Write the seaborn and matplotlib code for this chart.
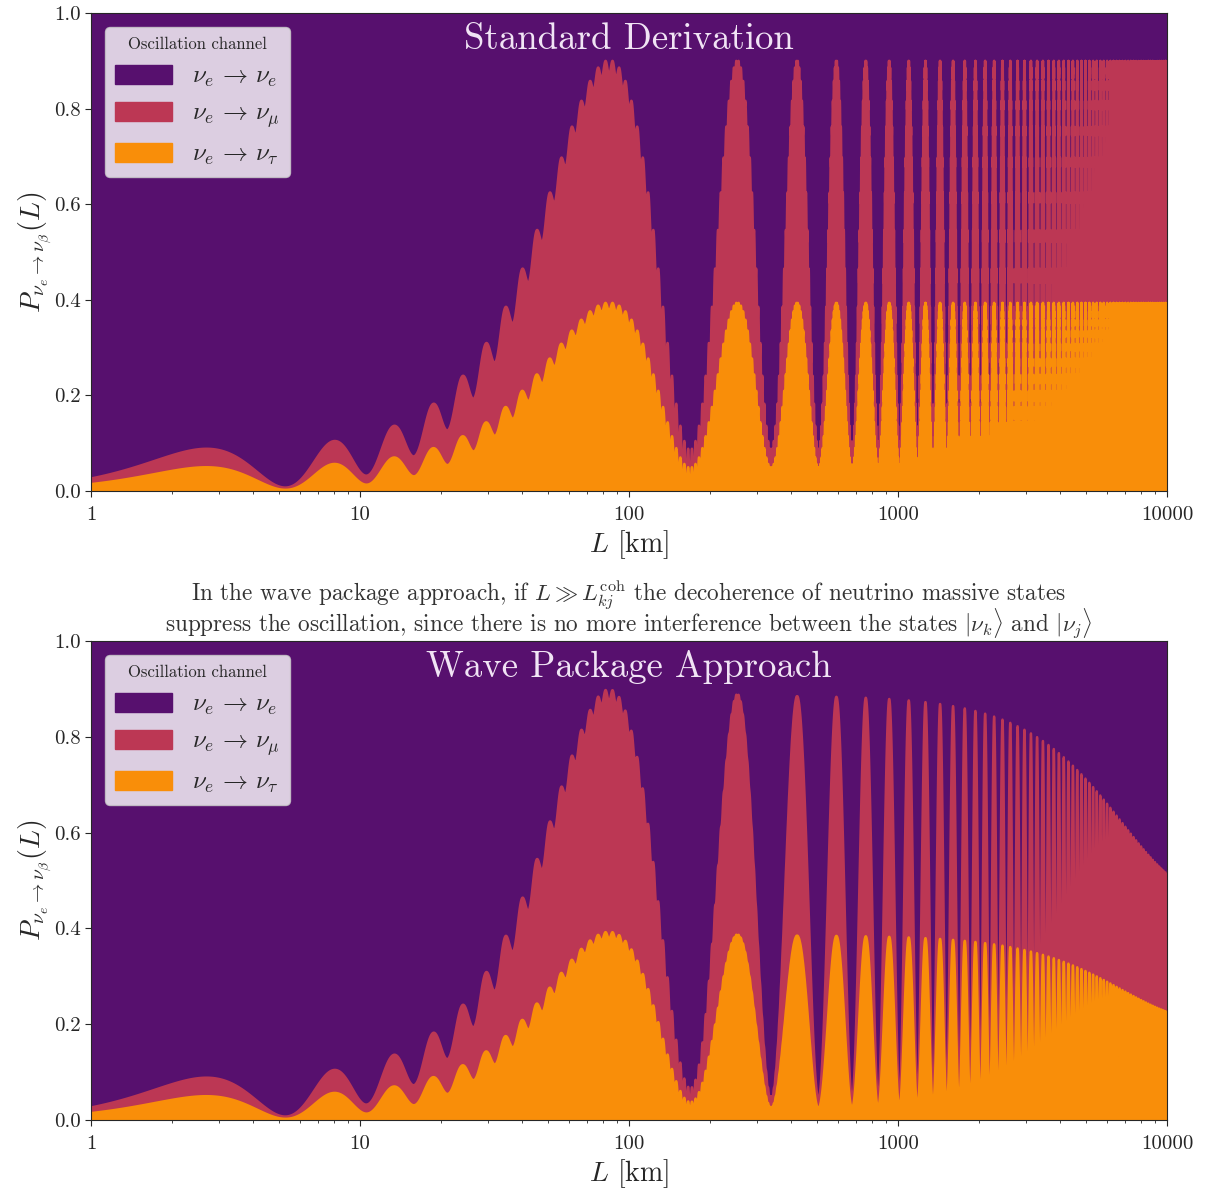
import numpy as np
import matplotlib
matplotlib.use("Agg")
import matplotlib.pyplot as plt
from matplotlib.patches import Patch
from matplotlib.ticker import FixedLocator, FixedFormatter
import seaborn as sns

# ---- oscillation parameters -------------------------------------------------
mixing_angles_deg = [35.0, 8.6, 40.9]      # theta12, theta13, theta23
mass_splittings = [7.5e-5, 2.4e-3]         # dm^2_21, dm^2_31 [eV^2]
energy_gev = 5.08e-3                       # neutrino energy [GeV]
coherence_21_km = 6800.0                   # L_coh of the (2,1) pair [km]
distance_range_km = [1.0, 10000.0]
n_samples = 200000

channel_labels = [r"$\nu_e \,\rightarrow\, \nu_e$",
                  r"$\nu_e \,\rightarrow\, \nu_\mu$",
                  r"$\nu_e \,\rightarrow\, \nu_\tau$"]
panel_titles = ["Standard Derivation", "Wave Package Approach"]
x_ticks = [1, 10, 100, 1000, 10000]
x_tick_labels = ["1", "10", "100", "1000", "10000"]
y_ticks = [0.0, 0.2, 0.4, 0.6, 0.8, 1.0]
y_tick_labels = ["0.0", "0.2", "0.4", "0.6", "0.8", "1.0"]
note_text = (
    r"In the wave package approach, if $L \gg L_{kj}^{\rm coh}$ the decoherence of neutrino massive states"
    "\n"
    r"suppress the oscillation, since there is no more interference between the states $|\nu_k\rangle$ and $|\nu_j\rangle$"
)


def osc_term(dm2, L, E, lcoh=None):
    """sin^2(1.267 dm2 L / E), optionally damped by the wave-packet factor."""
    phase = 1.267 * dm2 * L / E
    damp = 1.0 if lcoh is None else np.exp(-(L / lcoh) ** 2)
    return 0.5 * (1.0 - damp * np.cos(2.0 * phase))


def appearance(L, E, lcoh21=None):
    t12, t13, t23 = np.radians(mixing_angles_deg)
    dm21, dm31 = mass_splittings
    dm32 = dm31 - dm21
    ue1 = (np.cos(t12) * np.cos(t13)) ** 2
    ue2 = (np.sin(t12) * np.cos(t13)) ** 2
    ue3 = np.sin(t13) ** 2
    if lcoh21 is None:
        l21 = l31 = l32 = None
    else:
        l21, l31, l32 = lcoh21, lcoh21 * dm21 / dm31, lcoh21 * dm21 / dm32
    solar = 4 * ue1 * ue2 * osc_term(dm21, L, E, l21)
    atm = 4 * ue3 * (ue1 * osc_term(dm31, L, E, l31) + ue2 * osc_term(dm32, L, E, l32))
    s23, c23 = np.sin(t23) ** 2, np.cos(t23) ** 2
    p_mu = c23 * solar + s23 * atm
    p_tau = s23 * solar + c23 * atm
    return p_mu, p_tau


L = np.logspace(np.log10(distance_range_km[0]), np.log10(distance_range_km[1]), n_samples)
panels = [appearance(L, energy_gev, None), appearance(L, energy_gev, coherence_21_km)]

# ---- styling ---------------------------------------------------------------
sns.set_style("ticks")
colors = sns.color_palette("inferno", 3)   # purple, red, orange
plt.rcParams.update({
    "font.family": "serif",
    "font.serif": ["cmr10"],
    "mathtext.fontset": "cm",
    "axes.formatter.use_mathtext": True,
    "axes.unicode_minus": False,
    "axes.edgecolor": "0.15",
    "xtick.color": "0.15",
    "ytick.color": "0.15",
})

W, H = 1207, 1194
fig = plt.figure(figsize=(W / 100, H / 100), dpi=100)
boxes = [(91, 13, 1167, 491), (91, 641, 1167, 1120)]

for (x0, y0, x1, y1), (p_mu, p_tau), title in zip(boxes, panels, panel_titles):
    ax = fig.add_axes([x0 / W, 1 - y1 / H, (x1 - x0) / W, (y1 - y0) / H])
    top = p_tau + p_mu
    ax.fill_between(L, top, 1.0, facecolor=colors[0], edgecolor=colors[0], linewidth=1.7)
    ax.fill_between(L, p_tau, top, facecolor=colors[1], edgecolor=colors[1], linewidth=1.7)
    ax.fill_between(L, 0.0, p_tau, facecolor=colors[2], edgecolor=colors[2], linewidth=1.7)

    ax.set_xscale("log")
    ax.set_xlim(*distance_range_km)
    ax.set_ylim(0, 1)
    ax.xaxis.set_major_locator(FixedLocator(x_ticks))
    ax.xaxis.set_major_formatter(FixedFormatter(x_tick_labels))
    ax.yaxis.set_major_locator(FixedLocator(y_ticks))
    ax.yaxis.set_major_formatter(FixedFormatter(y_tick_labels))
    ax.tick_params(axis="both", which="major", labelsize=15, length=4, width=0.8)
    ax.tick_params(axis="x", which="major", pad=7)
    ax.tick_params(axis="x", which="minor", length=2.5, width=0.6)
    ax.set_xlabel(r"$L$ [km]", fontsize=20, labelpad=3)
    ax.set_ylabel(r"$P_{\nu_e \rightarrow \nu_\beta}(L)$", fontsize=20, labelpad=0)

    ax.text(0.5, 0.945, title, transform=ax.transAxes, ha="center", va="center",
            fontsize=26.5, color="#f1e4f5")

    handles = [Patch(facecolor=c, edgecolor=c) for c in colors]
    leg = ax.legend(handles, channel_labels, title="Oscillation channel",
                    loc="upper left", fontsize=18, title_fontsize=12,
                    handlelength=2.3, handleheight=0.8, handletextpad=0.8,
                    labelspacing=0.5, borderaxespad=0.55, borderpad=0.4,
                    frameon=True, fancybox=True, framealpha=0.8)
    leg.get_frame().set_facecolor("white")
    leg.get_frame().set_edgecolor("0.8")

fig.text(629 / W, 1 - 609 / H, note_text, ha="center", va="center",
         fontsize=16.7, color="0.2", linespacing=0.78, multialignment="center")

fig.savefig("out.png", dpi=100)
